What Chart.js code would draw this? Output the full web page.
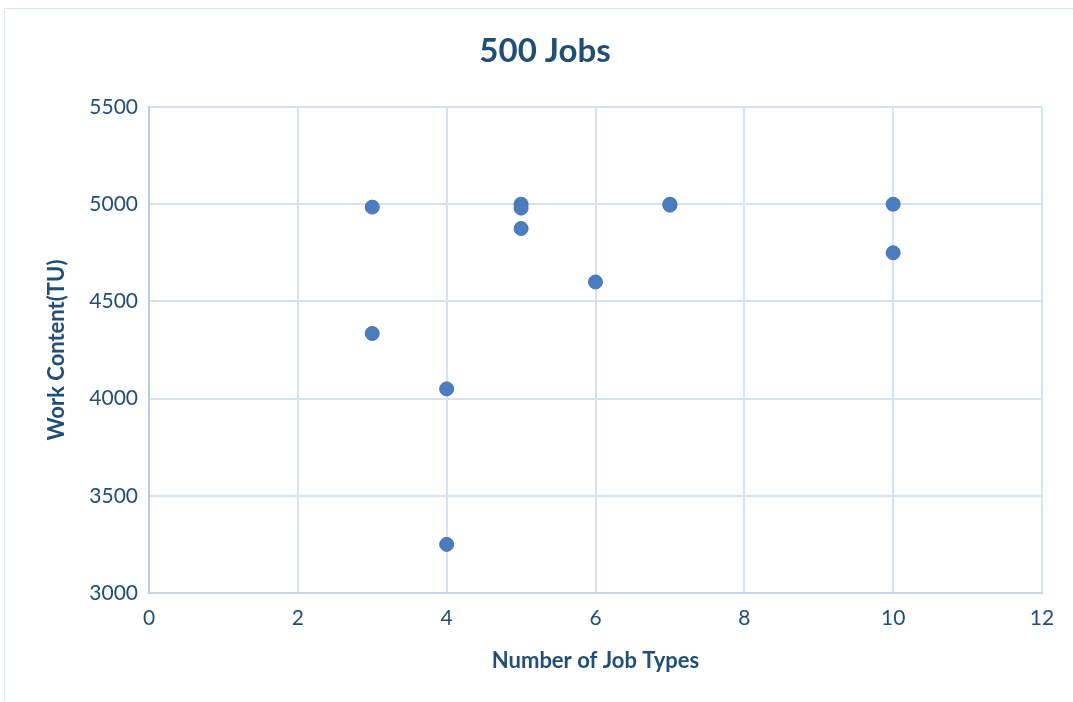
<!DOCTYPE html>
<html>
<head>
<meta charset="utf-8">
<script src="https://cdn.jsdelivr.net/npm/chart.js@4/dist/chart.umd.min.js"></script>
<style>
  html, body { margin: 0; padding: 0; background: #fff; }
  #wrap { width: 1073px; height: 702px; position: relative; }
</style>
</head>
<body>
<div id="wrap"><canvas id="jobsChart"></canvas></div>
<script>
// job types vs. work content, 500 jobs
const jobTypes = [3, 3, 4, 4, 5, 5, 5, 6, 7, 7, 10, 10];
const workContent = [4985, 4335, 4050, 3250, 5000, 4980, 4875, 4600, 5000, 4995, 5000, 4750];

const xTicks = [0, 2, 4, 6, 8, 10, 12];
const yTicks = [3000, 3500, 4000, 4500, 5000, 5500];

const textColor = '#1f4e79';
const gridColor = '#d6e2f0';
const fontFamily = "Lato, 'Open Sans', sans-serif";

let points = [];
for (let i = 0; i < jobTypes.length; i++) {
    points.push({ x: jobTypes[i], y: workContent[i] });
}

// light frame around the whole chart
const framePlugin = {
    id: 'frame',
    beforeDraw: function (chart) {
        let c = chart.ctx;
        c.save();
        c.strokeStyle = '#d9e3ef';
        c.lineWidth = 1;
        c.strokeRect(4.5, 8.5, chart.width + 20, chart.height + 20);
        c.restore();
    }
};

let ctx = document.getElementById('jobsChart').getContext('2d');
const jobsChart = new Chart(ctx, {
    type: 'scatter',
    data: {
        datasets: [{
            label: 'Work Content',
            data: points,
            backgroundColor: '#4a7dbf',
            borderColor: '#4676b5',
            borderWidth: 1,
            pointRadius: 7,
            pointHoverRadius: 7
        }]
    },
    options: {
        responsive: true,
        maintainAspectRatio: false,
        animation: false,
        layout: { padding: { left: 17, right: 0, top: 0, bottom: 0 } },
        plugins: {
            legend: { display: false },
            tooltip: { enabled: false },
            title: {
                display: true,
                text: '500 Jobs',
                color: textColor,
                font: { family: fontFamily, size: 33, weight: 'bold', lineHeight: 1.2 },
                padding: { top: 32, bottom: 35.4 }
            }
        },
        scales: {
            x: {
                type: 'linear',
                min: xTicks[0],
                max: xTicks[xTicks.length - 1],
                afterFit: function (scale) { scale.height = 109; },
                afterBuildTicks: function (scale) {
                    scale.ticks = xTicks.map(v => ({ value: v }));
                },
                grid: { color: gridColor, lineWidth: 2, drawTicks: false },
                border: { color: '#c5d6ec', width: 2 },
                ticks: {
                    color: textColor,
                    padding: 13,
                    font: { family: fontFamily, size: 21 }
                },
                title: {
                    display: true,
                    text: 'Number of Job Types',
                    color: textColor,
                    font: { family: fontFamily, size: 22, weight: 'bold', lineHeight: 1.2 },
                    padding: { top: 28, bottom: 28 }
                }
            },
            y: {
                type: 'linear',
                min: yTicks[0],
                max: yTicks[yTicks.length - 1],
                afterFit: function (scale) { scale.width = 132; },
                afterBuildTicks: function (scale) {
                    scale.ticks = yTicks.map(v => ({ value: v }));
                },
                grid: { color: gridColor, lineWidth: 2, drawTicks: false },
                border: { color: '#b9cde8', width: 2 },
                ticks: {
                    color: textColor,
                    padding: 11,
                    font: { family: fontFamily, size: 21 },
                    callback: function (v) { return String(v); }
                },
                title: {
                    display: true,
                    text: 'Work Content(TU)',
                    color: textColor,
                    font: { family: fontFamily, size: 22, weight: 'bold', lineHeight: 1.2 },
                    padding: { top: 27, bottom: 27 }
                }
            },
            // empty right-hand strip so the title centres over the frame
            yRight: {
                type: 'linear',
                position: 'right',
                afterFit: function (scale) { scale.width = 31; },
                grid: { display: false },
                border: { display: false },
                ticks: { display: false }
            }
        }
    },
    plugins: [framePlugin]
});
</script>
</body>
</html>
